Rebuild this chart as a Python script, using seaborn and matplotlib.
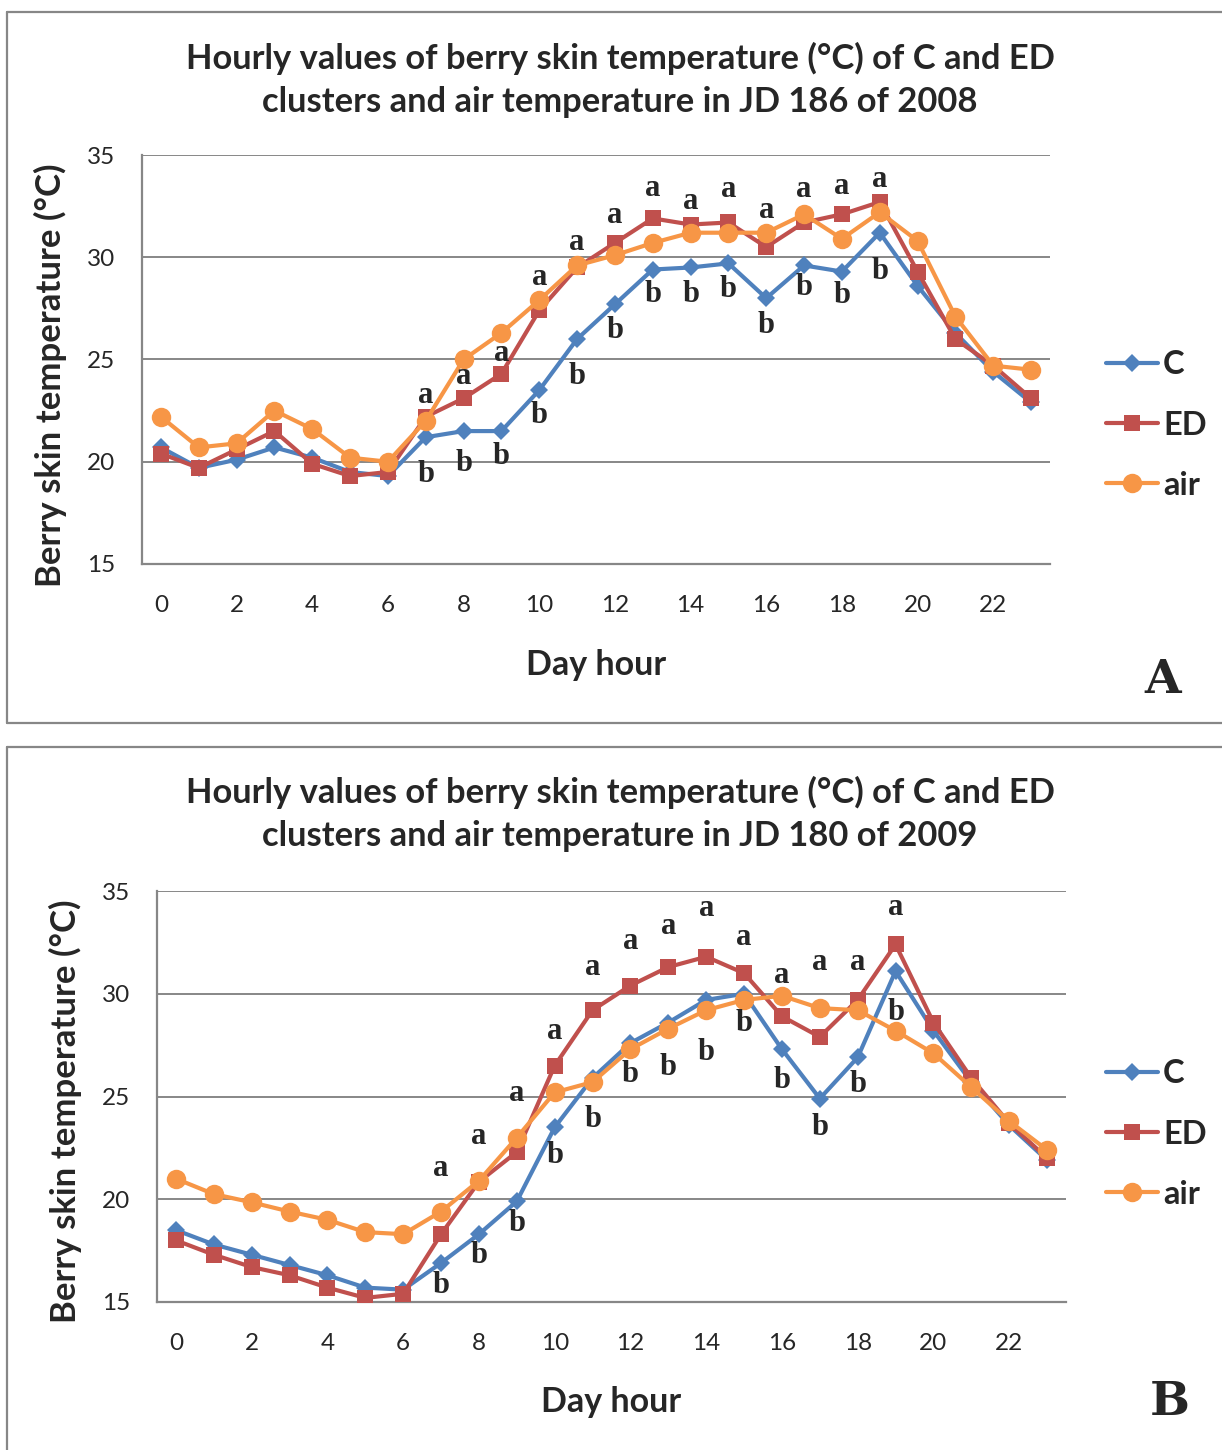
import numpy as np
import pandas as pd
import matplotlib
matplotlib.use("Agg")
import matplotlib.pyplot as plt
import seaborn as sns
from matplotlib.lines import Line2D

# ---------------- data ----------------
hours = list(range(24))
series_names = ["C", "ED", "air"]

# Panel A: JD 186 of 2008
a_C = [20.7, 19.7, 20.1, 20.7, 20.2, 19.5, 19.3, 21.2, 21.5, 21.5, 23.5, 26.0,
       27.7, 29.4, 29.5, 29.7, 28.0, 29.6, 29.3, 31.2, 28.6, 26.3, 24.4, 22.9]
a_ED = [20.4, 19.7, 20.6, 21.5, 19.9, 19.3, 19.5, 22.2, 23.1, 24.3, 27.4, 29.5,
        30.7, 31.9, 31.6, 31.7, 30.5, 31.7, 32.1, 32.7, 29.3, 26.0, 24.7, 23.1]
a_air = [22.2, 20.7, 20.9, 22.5, 21.6, 20.2, 20.0, 22.0, 25.0, 26.3, 27.9, 29.6,
         30.1, 30.7, 31.2, 31.2, 31.2, 32.1, 30.9, 32.2, 30.8, 27.1, 24.7, 24.5]

# Panel B: JD 180 of 2009
b_C = [18.5, 17.8, 17.3, 16.8, 16.3, 15.7, 15.6, 16.9, 18.3, 19.9, 23.5, 25.9,
       27.6, 28.6, 29.7, 30.0, 27.3, 24.9, 26.9, 31.1, 28.2, 25.7, 23.6, 21.9]
b_ED = [18.0, 17.3, 16.7, 16.3, 15.7, 15.2, 15.4, 18.3, 20.85, 22.3, 26.5, 29.2,
        30.4, 31.3, 31.8, 31.0, 28.9, 27.9, 29.7, 32.4, 28.6, 25.9, 23.7, 22.0]
b_air = [21.0, 20.25, 19.85, 19.4, 19.0, 18.4, 18.3, 19.4, 20.9, 23.0, 25.2, 25.7,
         27.3, 28.3, 29.2, 29.7, 29.9, 29.3, 29.2, 28.2, 27.1, 25.45, 23.8, 22.4]

# significance letters (hours 7..19)
letter_hours = list(range(7, 20))
a_letter_a_y = [23.26, 24.19, 25.27, 29.03, 30.70, 32.02, 33.34, 32.75, 33.29, 32.31, 33.29, 33.48, 33.78]
a_letter_b_y = [19.40, 19.89, 20.28, 22.24, 24.19, 26.44, 28.20, 28.20, 28.40, 26.64, 28.50, 28.11, 29.28]
b_letter_a_y = [21.52, 23.03, 25.17, 28.14, 31.30, 32.52, 33.25, 34.17, 32.76, 30.91, 31.50, 31.50, 34.22]
b_letter_b_y = [15.78, 17.24, 18.80, 22.15, 23.86, 26.05, 26.39, 27.12, 28.53, 25.80, 23.47, 25.56, 29.11]

title_a = "Hourly values of berry skin temperature (°C) of C and ED\nclusters and air temperature in JD 186 of 2008"
title_b = "Hourly values of berry skin temperature (°C) of C and ED\nclusters and air temperature in JD 180 of 2009"
ylabel = "Berry skin temperature (°C)"
xlabel = "Day hour"
yticks = [15, 20, 25, 30, 35]
xtick_labels = [str(h) for h in range(0, 24, 2)]

# ---------------- style ----------------
sns.set_theme(style="white")
plt.rcParams["font.family"] = ["Lato", "DejaVu Sans"]

colors = {"C": "#4F81BD", "ED": "#C0504D", "air": "#F79646"}
markers = {"C": "D", "ED": "s", "air": "o"}
msizes = {"C": 9.5, "ED": 11, "air": 14}
GRAY = "#878787"

W, H = 1222, 1450
fig = plt.figure(figsize=(W / 100, H / 100), dpi=100)


def fx(px):
    return px / W


def fy(py):
    return 1 - py / H


# panel borders
for xs, ys in [([7, 7], [12, 723]), ([7, W], [12, 12]), ([7, W], [723, 723]),
               ([7, 7], [747, H]), ([7, W], [747, 747])]:
    fig.add_artist(Line2D([fx(v) for v in xs], [fy(v) for v in ys], color=GRAY,
                          lw=1.6, transform=fig.transFigure))


def make_panel(rect_px, C, ED, air, la_y, lb_y, title, title_y, ylab_x, ylab_y,
               xlab_y, leg_y, panel_letter, letter_xy):
    l, t, r, b = rect_px
    ax = fig.add_axes([fx(l), fy(b), fx(r - l), (b - t) / H])
    df = pd.DataFrame({
        "hour": hours * 3,
        "temp": C + ED + air,
        "series": ["C"] * 24 + ["ED"] * 24 + ["air"] * 24,
    })
    for name in series_names:
        sub = df[df["series"] == name]
        sns.lineplot(data=sub, x="hour", y="temp", ax=ax, color=colors[name],
                     marker=markers[name], markersize=msizes[name],
                     markeredgewidth=0, linewidth=3.0, legend=False, zorder=3)
    ax.set_xlim(-0.5, 23.5)
    ax.set_ylim(15, 35)
    ax.set_yticks(yticks)
    ax.set_xticks(range(0, 24, 2))
    ax.set_xticklabels(xtick_labels)
    ax.set_xticks(np.arange(-0.5, 24, 1), minor=True)
    ax.tick_params(axis="x", which="major", length=0, pad=22, labelsize=17.5)
    ax.tick_params(axis="x", which="minor", length=7, width=1.3, color=GRAY, direction="out")
    ax.tick_params(axis="y", length=7, width=1.3, color=GRAY, direction="out", pad=12, labelsize=17.5)
    for s in ["top", "right"]:
        ax.spines[s].set_visible(False)
    for s in ["left", "bottom"]:
        ax.spines[s].set_color(GRAY)
        ax.spines[s].set_linewidth(1.6)
    ax.yaxis.grid(True, color=GRAY, lw=1.4)
    ax.xaxis.grid(False)
    ax.set_axisbelow(True)
    ax.set_xlabel("")
    ax.set_ylabel("")
    # letters
    for h, ya, yb in zip(letter_hours, la_y, lb_y):
        ax.text(h, ya, "a", ha="center", va="center", fontsize=22, fontweight="bold",
                family="Liberation Serif", zorder=5)
        ax.text(h, yb, "b", ha="center", va="center", fontsize=22, fontweight="bold",
                family="Liberation Serif", zorder=5)
    # titles and labels
    fig.text(fx(620), fy(title_y), title, ha="center", va="center", fontsize=24.8,
             fontweight="bold", linespacing=1.42)
    fig.text(fx(ylab_x), fy(ylab_y), ylabel, rotation=90, ha="center", va="center",
             fontsize=25, fontweight="bold")
    fig.text(fx((l + r) / 2), fy(xlab_y), xlabel, ha="center", va="center",
             fontsize=24.5, fontweight="bold")
    # legend
    handles = [Line2D([], [], color=colors[n], marker=markers[n], markersize=msizes[n],
                      markeredgewidth=0, lw=3.0) for n in series_names]
    ax.legend(handles, series_names, loc="center left",
              bbox_to_anchor=(fx(1106), fy(leg_y)), bbox_transform=fig.transFigure,
              frameon=False, handlelength=1.6, handletextpad=0.15,
              labelspacing=0.95, borderpad=0, borderaxespad=0,
              prop={"family": "Lato", "weight": "bold", "size": 23.5})
    fig.text(fx(letter_xy[0]), fy(letter_xy[1]), panel_letter, ha="center", va="center",
             fontsize=34, fontweight="bold", family="DejaVu Serif")
    return ax


make_panel((142, 155, 1050, 564), a_C, a_ED, a_air, a_letter_a_y, a_letter_b_y,
           title_a, 80, 50, 375, 665, 425, "A", (1163, 680))
make_panel((157, 891, 1066, 1302), b_C, b_ED, b_air, b_letter_a_y, b_letter_b_y,
           title_b, 814, 65, 1111, 1402, 1134, "B", (1170, 1402))

fig.savefig("out.png", dpi=100)
